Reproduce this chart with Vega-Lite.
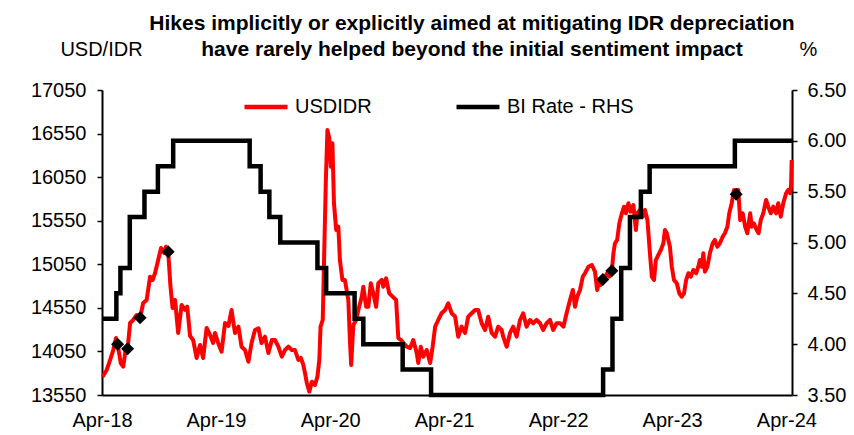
{
  "$schema": "https://vega.github.io/schema/vega-lite/v6.json",
  "width": 690,
  "height": 305,
  "autosize": "none",
  "padding": {"left": 102, "top": 90, "right": 62, "bottom": 40},
  "background": "white",
  "config": {
    "view": {"stroke": null},
    "font": "Liberation Sans, Arial",
    "axis": {"labelColor": "black", "titleColor": "black", "domainColor": "black", "tickColor": "black", "grid": false, "labelFont": "Liberation Sans, Arial", "titleFont": "Liberation Sans, Arial"},
    "legend": {"labelFont": "Liberation Sans, Arial"}
  },
  "title": {
    "text": ["Hikes implicitly or explicitly aimed at mitigating IDR depreciation", "have rarely helped beyond the initial sentiment impact"],
    "font": "Liberation Sans, Arial",
    "fontSize": 21,
    "fontWeight": "bold",
    "color": "black",
    "anchor": "middle",
    "frame": "group",
    "offset": 0,
    "dx": 25,
    "dy": 21,
    "lineHeight": 26
  },
  "datasets": {
    "fx": [
      {"date": "2018-04-03", "USDIDR": 13760}, {"date": "2018-04-16", "USDIDR": 13837}, {"date": "2018-04-27", "USDIDR": 13952}, {"date": "2018-05-07", "USDIDR": 14066}, {"date": "2018-05-16", "USDIDR": 14204}, {"date": "2018-05-21", "USDIDR": 14132}, {"date": "2018-05-31", "USDIDR": 13917}, {"date": "2018-06-08", "USDIDR": 13875}, {"date": "2018-06-17", "USDIDR": 14104}, {"date": "2018-06-22", "USDIDR": 14081}, {"date": "2018-06-30", "USDIDR": 14376}, {"date": "2018-07-10", "USDIDR": 14411}, {"date": "2018-07-21", "USDIDR": 14468}, {"date": "2018-08-01", "USDIDR": 14437}, {"date": "2018-08-11", "USDIDR": 14606}, {"date": "2018-08-22", "USDIDR": 14640}, {"date": "2018-09-02", "USDIDR": 14908}, {"date": "2018-09-10", "USDIDR": 14870}, {"date": "2018-09-18", "USDIDR": 14950}, {"date": "2018-09-28", "USDIDR": 15099}, {"date": "2018-10-07", "USDIDR": 15237}, {"date": "2018-10-17", "USDIDR": 15180}, {"date": "2018-10-23", "USDIDR": 15252}, {"date": "2018-10-30", "USDIDR": 15195}, {"date": "2018-11-06", "USDIDR": 14812}, {"date": "2018-11-13", "USDIDR": 14548}, {"date": "2018-11-21", "USDIDR": 14640}, {"date": "2018-12-01", "USDIDR": 14262}, {"date": "2018-12-12", "USDIDR": 14583}, {"date": "2018-12-23", "USDIDR": 14526}, {"date": "2018-12-30", "USDIDR": 14563},
      {"date": "2019-01-08", "USDIDR": 14227}, {"date": "2019-01-18", "USDIDR": 14181}, {"date": "2019-01-29", "USDIDR": 13975}, {"date": "2019-02-09", "USDIDR": 14124}, {"date": "2019-02-19", "USDIDR": 13975}, {"date": "2019-03-02", "USDIDR": 14319}, {"date": "2019-03-13", "USDIDR": 14239}, {"date": "2019-03-23", "USDIDR": 14147}, {"date": "2019-03-29", "USDIDR": 14262}, {"date": "2019-04-08", "USDIDR": 14147}, {"date": "2019-04-19", "USDIDR": 14047}, {"date": "2019-04-30", "USDIDR": 14376}, {"date": "2019-05-11", "USDIDR": 14342}, {"date": "2019-05-21", "USDIDR": 14526}, {"date": "2019-06-01", "USDIDR": 14262}, {"date": "2019-06-12", "USDIDR": 14334}, {"date": "2019-06-22", "USDIDR": 14104}, {"date": "2019-07-03", "USDIDR": 14066}, {"date": "2019-07-14", "USDIDR": 13932}, {"date": "2019-07-24", "USDIDR": 14147}, {"date": "2019-08-04", "USDIDR": 14296}, {"date": "2019-08-15", "USDIDR": 14316}, {"date": "2019-08-25", "USDIDR": 14147}, {"date": "2019-09-05", "USDIDR": 14219}, {"date": "2019-09-16", "USDIDR": 14032}, {"date": "2019-09-27", "USDIDR": 14181}, {"date": "2019-10-07", "USDIDR": 14181}, {"date": "2019-10-18", "USDIDR": 14104}, {"date": "2019-10-29", "USDIDR": 13990}, {"date": "2019-11-08", "USDIDR": 14066}, {"date": "2019-11-19", "USDIDR": 14104}, {"date": "2019-11-30", "USDIDR": 14066}, {"date": "2019-12-10", "USDIDR": 14066}, {"date": "2019-12-21", "USDIDR": 13952}, {"date": "2019-12-29", "USDIDR": 13975},
      {"date": "2020-01-06", "USDIDR": 13894}, {"date": "2020-01-11", "USDIDR": 13803}, {"date": "2020-01-17", "USDIDR": 13688}, {"date": "2020-01-25", "USDIDR": 13588}, {"date": "2020-02-02", "USDIDR": 13703}, {"date": "2020-02-12", "USDIDR": 13665}, {"date": "2020-02-20", "USDIDR": 13760}, {"date": "2020-02-26", "USDIDR": 13952}, {"date": "2020-03-01", "USDIDR": 14334}, {"date": "2020-03-08", "USDIDR": 14411}, {"date": "2020-03-12", "USDIDR": 15065}, {"date": "2020-03-18", "USDIDR": 16017}, {"date": "2020-03-23", "USDIDR": 16591}, {"date": "2020-03-29", "USDIDR": 16496}, {"date": "2020-04-03", "USDIDR": 16170}, {"date": "2020-04-08", "USDIDR": 16438}, {"date": "2020-04-13", "USDIDR": 15750}, {"date": "2020-04-20", "USDIDR": 15444}, {"date": "2020-04-27", "USDIDR": 15481}, {"date": "2020-05-02", "USDIDR": 15099}, {"date": "2020-05-10", "USDIDR": 14870}, {"date": "2020-05-18", "USDIDR": 14870}, {"date": "2020-05-29", "USDIDR": 14640}, {"date": "2020-06-03", "USDIDR": 14181}, {"date": "2020-06-07", "USDIDR": 13894}, {"date": "2020-06-14", "USDIDR": 14353}, {"date": "2020-06-23", "USDIDR": 14411}, {"date": "2020-06-30", "USDIDR": 14526}, {"date": "2020-07-11", "USDIDR": 14678}, {"date": "2020-07-16", "USDIDR": 14793}, {"date": "2020-07-25", "USDIDR": 14563}, {"date": "2020-08-01", "USDIDR": 14563}, {"date": "2020-08-09", "USDIDR": 14832}, {"date": "2020-08-17", "USDIDR": 14717}, {"date": "2020-08-26", "USDIDR": 14563}, {"date": "2020-09-02", "USDIDR": 14832}, {"date": "2020-09-13", "USDIDR": 14870}, {"date": "2020-09-18", "USDIDR": 14793}, {"date": "2020-09-27", "USDIDR": 14889}, {"date": "2020-10-07", "USDIDR": 14717}, {"date": "2020-10-18", "USDIDR": 14678}, {"date": "2020-10-29", "USDIDR": 14640}, {"date": "2020-11-05", "USDIDR": 14204}, {"date": "2020-11-14", "USDIDR": 14181}, {"date": "2020-11-21", "USDIDR": 14147}, {"date": "2020-12-02", "USDIDR": 14104}, {"date": "2020-12-13", "USDIDR": 14089}, {"date": "2020-12-23", "USDIDR": 14181},
      {"date": "2021-01-03", "USDIDR": 14032}, {"date": "2021-01-08", "USDIDR": 13917}, {"date": "2021-01-16", "USDIDR": 14104}, {"date": "2021-01-24", "USDIDR": 13990}, {"date": "2021-02-04", "USDIDR": 14066}, {"date": "2021-02-15", "USDIDR": 13917}, {"date": "2021-02-23", "USDIDR": 14104}, {"date": "2021-03-03", "USDIDR": 14334}, {"date": "2021-03-13", "USDIDR": 14411}, {"date": "2021-03-24", "USDIDR": 14491}, {"date": "2021-04-04", "USDIDR": 14526}, {"date": "2021-04-14", "USDIDR": 14602}, {"date": "2021-04-25", "USDIDR": 14488}, {"date": "2021-05-06", "USDIDR": 14449}, {"date": "2021-05-16", "USDIDR": 14219}, {"date": "2021-05-27", "USDIDR": 14334}, {"date": "2021-06-07", "USDIDR": 14262}, {"date": "2021-06-17", "USDIDR": 14449}, {"date": "2021-06-28", "USDIDR": 14488}, {"date": "2021-07-09", "USDIDR": 14526}, {"date": "2021-07-19", "USDIDR": 14526}, {"date": "2021-07-30", "USDIDR": 14373}, {"date": "2021-08-10", "USDIDR": 14296}, {"date": "2021-08-20", "USDIDR": 14449}, {"date": "2021-08-31", "USDIDR": 14262}, {"date": "2021-09-11", "USDIDR": 14219}, {"date": "2021-09-21", "USDIDR": 14334}, {"date": "2021-10-02", "USDIDR": 14296}, {"date": "2021-10-07", "USDIDR": 14219}, {"date": "2021-10-18", "USDIDR": 14104}, {"date": "2021-10-29", "USDIDR": 14262}, {"date": "2021-11-08", "USDIDR": 14334}, {"date": "2021-11-19", "USDIDR": 14219}, {"date": "2021-11-30", "USDIDR": 14411}, {"date": "2021-12-10", "USDIDR": 14488}, {"date": "2021-12-21", "USDIDR": 14334},
      {"date": "2022-01-01", "USDIDR": 14411}, {"date": "2022-01-11", "USDIDR": 14373}, {"date": "2022-01-22", "USDIDR": 14411}, {"date": "2022-02-02", "USDIDR": 14373}, {"date": "2022-02-12", "USDIDR": 14296}, {"date": "2022-02-23", "USDIDR": 14373}, {"date": "2022-03-06", "USDIDR": 14411}, {"date": "2022-03-16", "USDIDR": 14296}, {"date": "2022-03-27", "USDIDR": 14373}, {"date": "2022-04-07", "USDIDR": 14373}, {"date": "2022-04-18", "USDIDR": 14334}, {"date": "2022-04-28", "USDIDR": 14488}, {"date": "2022-05-09", "USDIDR": 14640}, {"date": "2022-05-18", "USDIDR": 14755}, {"date": "2022-05-25", "USDIDR": 14563}, {"date": "2022-06-01", "USDIDR": 14678}, {"date": "2022-06-10", "USDIDR": 14755}, {"date": "2022-06-19", "USDIDR": 14908}, {"date": "2022-06-26", "USDIDR": 14947}, {"date": "2022-07-07", "USDIDR": 15022}, {"date": "2022-07-18", "USDIDR": 15042}, {"date": "2022-07-28", "USDIDR": 14965}, {"date": "2022-08-04", "USDIDR": 14755}, {"date": "2022-08-11", "USDIDR": 14870}, {"date": "2022-08-15", "USDIDR": 14812}, {"date": "2022-08-22", "USDIDR": 14875}, {"date": "2022-08-29", "USDIDR": 14908}, {"date": "2022-09-05", "USDIDR": 14947}, {"date": "2022-09-12", "USDIDR": 14908}, {"date": "2022-09-20", "USDIDR": 14976}, {"date": "2022-09-25", "USDIDR": 15176}, {"date": "2022-09-30", "USDIDR": 15291}, {"date": "2022-10-07", "USDIDR": 15329}, {"date": "2022-10-14", "USDIDR": 15520}, {"date": "2022-10-22", "USDIDR": 15635}, {"date": "2022-10-29", "USDIDR": 15711}, {"date": "2022-11-04", "USDIDR": 15635}, {"date": "2022-11-12", "USDIDR": 15750}, {"date": "2022-11-19", "USDIDR": 15654}, {"date": "2022-11-28", "USDIDR": 15730}, {"date": "2022-12-06", "USDIDR": 15444}, {"date": "2022-12-11", "USDIDR": 15635}, {"date": "2022-12-19", "USDIDR": 15673}, {"date": "2022-12-28", "USDIDR": 15596},
      {"date": "2023-01-04", "USDIDR": 15673}, {"date": "2023-01-12", "USDIDR": 15558}, {"date": "2023-01-20", "USDIDR": 15176}, {"date": "2023-01-26", "USDIDR": 14908}, {"date": "2023-02-02", "USDIDR": 14870}, {"date": "2023-02-08", "USDIDR": 15099}, {"date": "2023-02-16", "USDIDR": 15157}, {"date": "2023-02-24", "USDIDR": 15214}, {"date": "2023-03-04", "USDIDR": 15291}, {"date": "2023-03-09", "USDIDR": 15444}, {"date": "2023-03-15", "USDIDR": 15406}, {"date": "2023-03-20", "USDIDR": 15329}, {"date": "2023-03-25", "USDIDR": 15252}, {"date": "2023-03-31", "USDIDR": 15022}, {"date": "2023-04-07", "USDIDR": 14870}, {"date": "2023-04-16", "USDIDR": 14832}, {"date": "2023-04-24", "USDIDR": 14717}, {"date": "2023-05-02", "USDIDR": 14678}, {"date": "2023-05-09", "USDIDR": 14717}, {"date": "2023-05-16", "USDIDR": 14870}, {"date": "2023-05-23", "USDIDR": 14947}, {"date": "2023-05-31", "USDIDR": 14908}, {"date": "2023-06-08", "USDIDR": 14985}, {"date": "2023-06-17", "USDIDR": 14947}, {"date": "2023-06-24", "USDIDR": 15022}, {"date": "2023-06-29", "USDIDR": 15099}, {"date": "2023-07-05", "USDIDR": 15022}, {"date": "2023-07-10", "USDIDR": 15176}, {"date": "2023-07-15", "USDIDR": 14965}, {"date": "2023-07-23", "USDIDR": 15022}, {"date": "2023-07-31", "USDIDR": 15176}, {"date": "2023-08-09", "USDIDR": 15291}, {"date": "2023-08-16", "USDIDR": 15329}, {"date": "2023-08-24", "USDIDR": 15252}, {"date": "2023-09-01", "USDIDR": 15291}, {"date": "2023-09-10", "USDIDR": 15367}, {"date": "2023-09-17", "USDIDR": 15406}, {"date": "2023-09-25", "USDIDR": 15481}, {"date": "2023-10-01", "USDIDR": 15635}, {"date": "2023-10-09", "USDIDR": 15750}, {"date": "2023-10-16", "USDIDR": 15903}, {"date": "2023-10-23", "USDIDR": 15853}, {"date": "2023-10-30", "USDIDR": 15903}, {"date": "2023-11-05", "USDIDR": 15558}, {"date": "2023-11-13", "USDIDR": 15635}, {"date": "2023-11-21", "USDIDR": 15481}, {"date": "2023-11-28", "USDIDR": 15406}, {"date": "2023-12-07", "USDIDR": 15635}, {"date": "2023-12-12", "USDIDR": 15481}, {"date": "2023-12-19", "USDIDR": 15520}, {"date": "2023-12-28", "USDIDR": 15444},
      {"date": "2024-01-03", "USDIDR": 15406}, {"date": "2024-01-10", "USDIDR": 15558}, {"date": "2024-01-18", "USDIDR": 15635}, {"date": "2024-01-27", "USDIDR": 15788}, {"date": "2024-02-03", "USDIDR": 15711}, {"date": "2024-02-11", "USDIDR": 15635}, {"date": "2024-02-19", "USDIDR": 15711}, {"date": "2024-02-28", "USDIDR": 15635}, {"date": "2024-03-06", "USDIDR": 15750}, {"date": "2024-03-14", "USDIDR": 15596}, {"date": "2024-03-22", "USDIDR": 15750}, {"date": "2024-03-31", "USDIDR": 15865}, {"date": "2024-04-07", "USDIDR": 15903}, {"date": "2024-04-13", "USDIDR": 15865}, {"date": "2024-04-16", "USDIDR": 15960}, {"date": "2024-04-18", "USDIDR": 16247}
    ],
    "bi": [
      {"date": "2018-04-01", "rate": 4.25}, {"date": "2018-05-17", "rate": 4.5}, {"date": "2018-05-30", "rate": 4.75}, {"date": "2018-06-29", "rate": 5.25}, {"date": "2018-08-15", "rate": 5.5}, {"date": "2018-09-27", "rate": 5.75}, {"date": "2018-11-15", "rate": 6.0}, {"date": "2019-07-18", "rate": 5.75}, {"date": "2019-08-22", "rate": 5.5}, {"date": "2019-09-19", "rate": 5.25}, {"date": "2019-10-24", "rate": 5.0}, {"date": "2020-02-20", "rate": 4.75}, {"date": "2020-03-19", "rate": 4.5}, {"date": "2020-06-18", "rate": 4.25}, {"date": "2020-07-16", "rate": 4.0}, {"date": "2020-11-19", "rate": 3.75}, {"date": "2021-02-18", "rate": 3.5}, {"date": "2022-08-23", "rate": 3.75}, {"date": "2022-09-22", "rate": 4.25}, {"date": "2022-10-20", "rate": 4.75}, {"date": "2022-11-17", "rate": 5.25}, {"date": "2022-12-22", "rate": 5.5}, {"date": "2023-01-19", "rate": 5.75}, {"date": "2023-10-19", "rate": 6.0}, {"date": "2024-04-19", "rate": 6.0}
    ],
    "hikes": [
      {"date": "2018-05-21", "USDIDR": 14132}, {"date": "2018-06-22", "USDIDR": 14081}, {"date": "2018-08-01", "USDIDR": 14437}, {"date": "2018-10-30", "USDIDR": 15195}, {"date": "2022-08-22", "USDIDR": 14875}, {"date": "2022-09-20", "USDIDR": 14976}, {"date": "2023-10-23", "USDIDR": 15853}
    ]
  },
  "encoding": {
    "x": {
      "field": "date",
      "type": "temporal",
      "scale": {"domain": [{"year": 2018, "month": 4, "date": 1}, {"year": 2024, "month": 4, "date": 19}]},
      "axis": {
        "title": null,
        "values": [{"year": 2018, "month": 4, "date": 1}, {"year": 2019, "month": 4, "date": 1}, {"year": 2020, "month": 4, "date": 1}, {"year": 2021, "month": 4, "date": 1}, {"year": 2022, "month": 4, "date": 1}, {"year": 2023, "month": 4, "date": 1}, {"year": 2024, "month": 4, "date": 1}],
        "format": "%b-%y",
        "labelFontSize": 20,
        "labelFlush": false,
        "labelOverlap": false,
        "ticks": false,
        "labelPadding": 15,
        "domainWidth": 2
      }
    }
  },
  "layer": [
    {
      "encoding": {
        "y": {
          "field": "USDIDR",
          "type": "quantitative",
          "scale": {"domain": [13550, 17050], "nice": false, "zero": false},
          "axis": {
            "values": [13550, 14050, 14550, 15050, 15550, 16050, 16550, 17050],
            "format": "d",
            "labelFontSize": 20,
            "tickSize": 5,
            "tickWidth": 1.5,
            "labelPadding": 11,
            "domainWidth": 2,
            "title": "USD/IDR",
            "titleAngle": 0,
            "titleFontSize": 20,
            "titleFontWeight": "normal",
            "titleAlign": "center",
            "titleBaseline": "alphabetic",
            "titleX": -1,
            "titleY": -35
          }
        }
      },
      "layer": [
        {
          "data": {"name": "fx"},
          "mark": {"type": "line", "strokeWidth": 4, "strokeJoin": "round"},
          "encoding": {
            "color": {
              "datum": "USDIDR",
              "type": "nominal",
              "scale": {"domain": ["USDIDR", "BI Rate - RHS"], "range": ["#ff0000", "#000000"]},
              "legend": {
                "title": null,
                "orient": "none",
                "legendX": 140,
                "legendY": -7,
                "direction": "horizontal",
                "columns": 2,
                "columnPadding": 75,
                "symbolType": "stroke",
                "symbolSize": 1849,
                "symbolStrokeWidth": 4.5,
                "labelFontSize": 20,
                "labelColor": "black",
                "labelOffset": 5
              }
            }
          }
        },
        {
          "data": {"name": "hikes"},
          "mark": {"type": "point", "shape": "diamond", "filled": true, "color": "black", "opacity": 1, "size": 170}
        }
      ]
    },
    {
      "data": {"name": "bi"},
      "mark": {"type": "line", "interpolate": "step-after", "strokeWidth": 4.5},
      "encoding": {
        "y": {
          "field": "rate",
          "type": "quantitative",
          "scale": {"domain": [3.5, 6.5], "nice": false, "zero": false},
          "axis": {
            "orient": "right",
            "values": [3.5, 4.0, 4.5, 5.0, 5.5, 6.0, 6.5],
            "format": ".2f",
            "labelFontSize": 20,
            "tickSize": 5,
            "tickWidth": 1.5,
            "labelPadding": 10,
            "domainWidth": 2,
            "title": "%",
            "titleAngle": 0,
            "titleFontSize": 20,
            "titleFontWeight": "normal",
            "titleAlign": "center",
            "titleBaseline": "alphabetic",
            "titleX": 16,
            "titleY": -35
          }
        },
        "color": {"datum": "BI Rate - RHS", "type": "nominal"}
      }
    }
  ],
  "resolve": {"scale": {"y": "independent"}}
}
